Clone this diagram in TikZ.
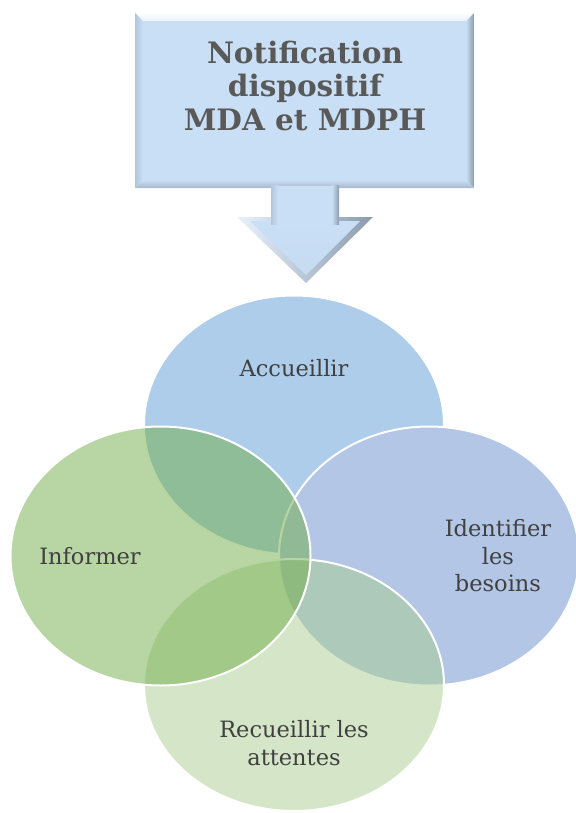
\documentclass[tikz,border=0pt]{standalone}
\usepackage{fontspec}
\setmainfont{DejaVu Serif}
\definecolor{cTop}{RGB}{91,155,213}
\definecolor{cRightSolid}{RGB}{179,198,230}
\definecolor{cBottom}{RGB}{169,205,143}
\definecolor{cLeft}{RGB}{112,173,71}
\definecolor{txtgray}{RGB}{64,64,64}
\definecolor{titlegray}{RGB}{89,89,89}
\definecolor{boxin}{RGB}{201,223,245}
\definecolor{boxtop}{RGB}{232,242,252}
\definecolor{boxleft}{RGB}{178,198,220}
\definecolor{boxright}{RGB}{138,155,173}
\definecolor{boxbot}{RGB}{166,184,204}
\begin{document}
\begin{tikzpicture}[x=1pt,y=-1pt,
  venn/.style={draw=white, line width=2pt, fill opacity=0.5},
  vennsolid/.style={draw=white, line width=2pt},
  lbl/.style={font=\fontsize{22.5}{27.5}\selectfont, text=txtgray, align=center, inner sep=0pt},
  ttl/.style={font=\bfseries\fontsize{29.5}{33.5}\selectfont, text=titlegray, align=center, inner sep=0pt}]
\useasboundingbox (0,0) rectangle (575,813);
% title box with bevel
\fill[boxin] (143,21) rectangle (466,180);
\shade[top color=white, bottom color=boxtop] (135,13) -- (474,13) -- (466,21) -- (143,21) -- cycle;
\shade[left color=boxleft, right color=boxin] (135,13) -- (143,21) -- (143,180) -- (135,188) -- cycle;
\shade[left color=boxin, right color=boxright] (474,13) -- (466,21) -- (466,180) -- (474,188) -- cycle;
\shade[top color=boxin, bottom color=boxbot] (135,188) -- (474,188) -- (466,180) -- (143,180) -- cycle;
\node[ttl] (title) at (305,86) {Notification\\dispositif\\MDA et MDPH};
% arrow
\shade[left color=boxtop, right color=boxright] (237,217) -- (373,217) -- (306,283) -- cycle;
\shade[top color=boxin, bottom color=boxin!85!boxleft] (250,221) -- (360,221) -- (306,275) -- cycle;
\fill[boxin] (271,186) rectangle (339,224);
\shade[left color=boxleft, right color=boxin] (271,186) rectangle (278,224);
\shade[left color=boxin, right color=boxright] (332,186) rectangle (339,224);
% venn
\draw[venn, fill=cTop] (294,425) ellipse [x radius=150pt, y radius=129.5pt];
\draw[vennsolid, fill=cRightSolid] (429,556) ellipse [x radius=150pt, y radius=129.5pt];
\draw[venn, fill=cBottom] (294,685) ellipse [x radius=150pt, y radius=126pt];
\draw[venn, fill=cLeft] (160.5,556) ellipse [x radius=150pt, y radius=129.5pt];
\node[lbl] (acc) at (294,368.5) {Accueillir};
\node[lbl] (inf) at (90,556.5) {Informer};
\node[lbl] (ide) at (498,556) {Identifier\\les\\besoins};
\node[lbl] (rec) at (294,743) {Recueillir les\\attentes};
\end{tikzpicture}
\end{document}
